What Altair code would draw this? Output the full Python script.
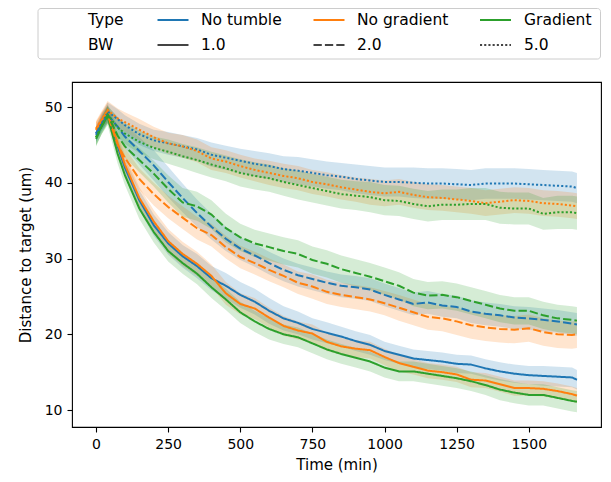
import altair as alt
import pandas as pd

# ---------------- data ----------------
TIME = [0, 20, 40, 75, 100, 150, 200, 250, 300, 350, 400, 450, 500, 550, 600,
        650, 700, 750, 800, 850, 900, 950, 1000, 1050, 1100, 1150, 1200, 1250,
        1300, 1350, 1400, 1450, 1500, 1550, 1600, 1650, 1667]

TYPES = ["No tumble", "No gradient", "Gradient"]
BWS = ["1.0", "2.0", "5.0"]
COLORS = ["#1f77b4", "#ff7f0e", "#2ca02c"]

# mean distance per series
NT_1 = [46.5, 48.0, 49.2, 44.8, 42.0, 37.7, 34.4, 32.0, 30.3, 29.0, 27.4, 26.4, 25.2, 24.3, 23.1,
        22.1, 21.5, 20.7, 20.2, 19.7, 19.1, 18.6, 17.8, 17.3, 16.8, 16.6, 16.4, 16.1,
        16.0, 15.5, 15.1, 14.8, 14.6, 14.5, 14.4, 14.3, 14.0]
NG_1 = [47.0, 48.3, 49.5, 45.2, 42.4, 38.0, 34.9, 32.3, 30.6, 29.3, 27.7, 25.4, 24.0, 23.4, 22.2,
        21.1, 20.5, 20.1, 19.0, 18.4, 18.1, 17.9, 17.0, 16.2, 15.7, 15.2, 15.0, 14.7,
        14.0, 13.9, 13.4, 12.9, 12.9, 12.8, 12.5, 12.1, 11.9]
GR_1 = [46.0, 47.5, 48.8, 43.8, 41.0, 36.6, 33.5, 31.0, 29.4, 28.0, 26.2, 24.6, 22.9, 21.7, 20.7,
        20.0, 19.6, 18.8, 18.0, 17.4, 16.9, 16.4, 15.6, 15.1, 15.1, 14.8, 14.5, 14.2,
        13.8, 13.3, 12.7, 12.3, 12.0, 12.0, 11.6, 11.2, 11.1]
NT_2 = [46.3, 47.8, 49.0, 47.4, 46.1, 44.2, 42.3, 40.1, 38.0, 36.0, 34.2, 32.6, 31.3, 30.4, 29.4,
        28.5, 27.8, 27.3, 26.8, 26.4, 26.2, 25.9, 25.2, 24.6, 24.0, 24.2, 23.8, 23.6,
        23.0, 22.7, 22.5, 22.2, 22.1, 21.9, 21.7, 21.4, 21.3]
NG_2 = [47.0, 48.3, 49.0, 45.0, 43.3, 40.5, 38.5, 36.8, 35.4, 34.0, 33.1, 31.5, 30.2, 29.4, 28.5,
        27.7, 26.8, 26.3, 25.6, 25.2, 24.9, 24.6, 24.1, 23.5, 22.9, 22.3, 22.1, 21.7,
        21.2, 20.9, 20.7, 20.6, 20.8, 20.3, 20.0, 19.9, 20.0]
GR_2 = [45.8, 47.5, 49.0, 46.2, 44.8, 43.0, 41.2, 39.2, 37.4, 36.9, 35.8, 34.0, 32.8, 32.0, 31.5,
        31.0, 30.6, 29.8, 29.3, 28.6, 28.1, 27.6, 27.0, 26.4, 25.5, 25.1, 25.2, 24.9,
        24.4, 23.9, 23.4, 23.1, 23.1, 22.5, 22.1, 21.9, 21.8]
NT_5 = [46.5, 48.0, 49.4, 48.4, 47.6, 46.4, 45.6, 45.2, 44.8, 44.4, 43.7, 43.3, 42.9, 42.5, 42.2,
        41.8, 41.6, 41.3, 41.0, 40.8, 40.5, 40.3, 40.1, 40.1, 40.0, 39.9, 39.9, 39.8,
        39.7, 39.9, 39.9, 39.9, 39.8, 39.7, 39.6, 39.5, 39.3]
NG_5 = [47.2, 48.4, 49.6, 48.5, 48.0, 47.0, 46.0, 45.2, 44.8, 44.2, 43.2, 42.8, 42.2, 41.7, 41.3,
        40.9, 40.6, 40.1, 39.8, 39.4, 39.1, 38.8, 38.6, 38.8, 38.4, 38.1, 38.0, 37.8,
        37.6, 37.3, 37.5, 37.7, 37.6, 37.3, 37.2, 37.0, 36.9]
GR_5 = [46.0, 47.6, 49.0, 47.3, 46.5, 45.4, 44.6, 44.1, 43.5, 43.0, 42.4, 41.9, 41.3, 40.9, 40.6,
        40.1, 39.7, 39.3, 38.9, 38.5, 38.3, 38.1, 37.7, 37.6, 37.2, 36.9, 37.1, 37.1,
        37.2, 37.2, 36.7, 36.6, 36.6, 35.9, 36.1, 36.1, 36.0]

# half-width of the confidence band per series
CI_NT_1 = [1.0, 1.0, 1.1, 1.2, 1.2, 1.3, 1.4, 1.5, 1.5, 1.6, 1.6, 1.7, 1.7, 1.7, 1.7,
           1.6, 1.5, 1.4, 1.4, 1.3, 1.3, 1.3, 1.2, 1.2, 1.2, 1.2, 1.2, 1.2,
           1.2, 1.2, 1.2, 1.2, 1.2, 1.3, 1.3, 1.3, 1.3]
CI_NG_1 = [1.0, 1.0, 1.1, 1.2, 1.3, 1.4, 1.5, 1.6, 1.6, 1.6, 1.5, 1.5, 1.4, 1.4, 1.3,
           1.3, 1.2, 1.2, 1.2, 1.1, 1.1, 1.1, 1.1, 1.1, 1.0, 1.0, 1.0, 1.0,
           1.0, 1.0, 1.0, 1.0, 1.0, 1.0, 1.0, 1.0, 1.0]
CI_GR_1 = [1.1, 1.1, 1.2, 1.3, 1.3, 1.4, 1.4, 1.4, 1.4, 1.4, 1.4, 1.4, 1.4, 1.4, 1.4,
           1.3, 1.3, 1.3, 1.3, 1.3, 1.3, 1.3, 1.3, 1.3, 1.3, 1.3, 1.3, 1.3,
           1.3, 1.3, 1.4, 1.4, 1.4, 1.4, 1.4, 1.4, 1.4]
CI_NT_2 = [1.0, 1.0, 1.1, 1.3, 1.5, 1.8, 2.0, 2.0, 1.9, 1.8, 1.7, 1.6, 1.5, 1.5, 1.5,
           1.5, 1.5, 1.5, 1.5, 1.5, 1.5, 1.5, 1.5, 1.5, 1.5, 1.5, 1.5, 1.5,
           1.5, 1.5, 1.5, 1.5, 1.5, 1.5, 1.5, 1.5, 1.5]
CI_NG_2 = [1.0, 1.0, 1.1, 1.2, 1.3, 1.4, 1.5, 1.5, 1.5, 1.5, 1.5, 1.5, 1.5, 1.5, 1.5,
           1.5, 1.5, 1.6, 1.6, 1.6, 1.6, 1.6, 1.6, 1.7, 1.7, 1.7, 1.7, 1.8,
           1.8, 1.8, 1.8, 1.8, 1.8, 1.8, 1.8, 1.8, 1.8]
CI_GR_2 = [1.0, 1.0, 1.1, 1.3, 1.5, 1.6, 1.7, 1.8, 1.9, 1.9, 1.9, 1.9, 1.8, 1.8, 1.8,
           1.8, 1.8, 1.8, 1.8, 1.8, 1.8, 1.8, 1.8, 1.8, 1.8, 1.8, 1.8, 1.8,
           1.8, 1.8, 1.8, 1.8, 1.8, 1.8, 1.8, 1.8, 1.8]
CI_NT_5 = [1.0, 1.1, 1.2, 1.3, 1.3, 1.4, 1.4, 1.5, 1.5, 1.5, 1.6, 1.6, 1.6, 1.7, 1.7,
           1.7, 1.8, 1.8, 1.8, 1.8, 1.9, 1.9, 1.9, 1.9, 2.0, 2.0, 2.0, 2.0,
           2.0, 2.0, 2.0, 2.0, 2.0, 2.0, 2.0, 2.0, 2.0]
CI_NG_5 = [1.0, 1.1, 1.2, 1.3, 1.3, 1.4, 1.4, 1.4, 1.5, 1.5, 1.5, 1.5, 1.5, 1.5, 1.6,
           1.6, 1.6, 1.6, 1.6, 1.6, 1.6, 1.7, 1.7, 1.7, 1.7, 1.7, 1.7, 1.7,
           1.7, 1.7, 1.7, 1.7, 1.7, 1.7, 1.7, 1.7, 1.7]
CI_GR_5 = [1.0, 1.1, 1.2, 1.3, 1.4, 1.5, 1.5, 1.6, 1.6, 1.7, 1.7, 1.7, 1.8, 1.8, 1.8,
           1.8, 1.9, 1.9, 1.9, 1.9, 1.9, 2.0, 2.0, 2.0, 2.0, 2.0, 2.0, 2.0,
           2.1, 2.1, 2.1, 2.1, 2.1, 2.1, 2.2, 2.2, 2.2]

X_TICKS = [0, 250, 500, 750, 1000, 1250, 1500]
Y_TICKS = [10, 20, 30, 40, 50]

MEANS = {
    ("No tumble", "1.0"): NT_1, ("No gradient", "1.0"): NG_1, ("Gradient", "1.0"): GR_1,
    ("No tumble", "2.0"): NT_2, ("No gradient", "2.0"): NG_2, ("Gradient", "2.0"): GR_2,
    ("No tumble", "5.0"): NT_5, ("No gradient", "5.0"): NG_5, ("Gradient", "5.0"): GR_5,
}
CIS = {
    ("No tumble", "1.0"): CI_NT_1, ("No gradient", "1.0"): CI_NG_1, ("Gradient", "1.0"): CI_GR_1,
    ("No tumble", "2.0"): CI_NT_2, ("No gradient", "2.0"): CI_NG_2, ("Gradient", "2.0"): CI_GR_2,
    ("No tumble", "5.0"): CI_NT_5, ("No gradient", "5.0"): CI_NG_5, ("Gradient", "5.0"): CI_GR_5,
}

rows = []
for (typ, bw), vals in MEANS.items():
    for t, v, h in zip(TIME, vals, CIS[(typ, bw)]):
        rows.append({"time": t, "dist": v, "lo": round(v - h, 3), "hi": round(v + h, 3),
                     "Type": typ, "BW": bw, "series": f"{typ} | {bw}"})
df = pd.DataFrame(rows)

# ---------------- styling ----------------
FONT = "DejaVu Sans"
TICK_FS = 14
TITLE_FS = 15
LEG_FS = 15.5
W, H = 529, 345
DASHES = [[1, 0], [8.3, 3.1], [2.1, 2.1]]

x_scale = alt.Scale(domain=[-83.35, 1750.35], nice=False, zero=False)
y_scale = alt.Scale(domain=[7.76, 53.3], nice=False, zero=False)
x_axis = alt.Axis(values=X_TICKS, title="Time (min)", titleX=W / 2, titleY=37,
                  titleBaseline="middle", labelPadding=5, format="d")
y_axis = alt.Axis(values=Y_TICKS, title="Distance to target (um)", titleX=-47, titleY=H / 2,
                  titleBaseline="middle", labelPadding=5, format="d")

color = alt.Color("Type:N", scale=alt.Scale(domain=TYPES, range=COLORS), legend=None)
dash = alt.StrokeDash("BW:N", scale=alt.Scale(domain=BWS, range=DASHES), legend=None)

band = alt.Chart(df).mark_area(opacity=0.2).encode(
    x=alt.X("time:Q", scale=x_scale, axis=x_axis),
    y=alt.Y("lo:Q", scale=y_scale, axis=y_axis, stack=None),
    y2="hi:Q",
    color=color,
    detail="series:N",
)
line = alt.Chart(df).mark_line(strokeWidth=2).encode(
    x=alt.X("time:Q", scale=x_scale, axis=x_axis),
    y=alt.Y("dist:Q", scale=y_scale, axis=y_axis),
    color=color,
    strokeDash=dash,
    detail="series:N",
)

# ---------------- legend box (drawn above the plot) ----------------
one = pd.DataFrame({"k": [0]})
ROW_Y = [-62, -37]
HANDLE_X = [85.5, 241.5, 408]
LABEL_X = [129, 285, 452]
HANDLE_W = 31

legend = [alt.Chart(one).mark_rect(fill="white", stroke="#cccccc", strokeWidth=1, cornerRadius=3).encode(
    x=alt.value(-34), x2=alt.value(528.5), y=alt.value(-73.5), y2=alt.value(-23))]


def label(txt, x, y):
    return alt.Chart(one).mark_text(text=txt, font=FONT, fontSize=LEG_FS, color="#000",
                                    align="left", baseline="middle").encode(
        x=alt.value(x), y=alt.value(y))


legend.append(label("Type", 16, ROW_Y[0]))
legend.append(label("BW", 16, ROW_Y[1]))
for i, typ in enumerate(TYPES):
    legend.append(alt.Chart(one).mark_rule(color=COLORS[i], strokeWidth=2).encode(
        x=alt.value(HANDLE_X[i]), x2=alt.value(HANDLE_X[i] + HANDLE_W), y=alt.value(ROW_Y[0])))
    legend.append(label(typ, LABEL_X[i], ROW_Y[0]))
for i, bw in enumerate(BWS):
    legend.append(alt.Chart(one).mark_rule(color="#444444", strokeWidth=2, strokeDash=DASHES[i]).encode(
        x=alt.value(HANDLE_X[i]), x2=alt.value(HANDLE_X[i] + HANDLE_W), y=alt.value(ROW_Y[1])))
    legend.append(label(bw, LABEL_X[i], ROW_Y[1]))

chart = alt.layer(band, line, *legend).properties(
    width=W, height=H,
    autosize=alt.AutoSizeParams(type="none"),
    padding={"left": 64, "top": 74, "right": 2, "bottom": 46},
).configure_view(
    stroke="#000", strokeWidth=1.1
).configure_axis(
    labelFont=FONT, labelFontSize=TICK_FS, labelColor="#000",
    titleFont=FONT, titleFontSize=TITLE_FS, titleFontWeight="normal", titleColor="#000",
    tickColor="#000", tickSize=5, tickWidth=1.1, domain=False, grid=False,
)

chart.save("out.html", embed_options={"renderer": "svg", "actions": False})
